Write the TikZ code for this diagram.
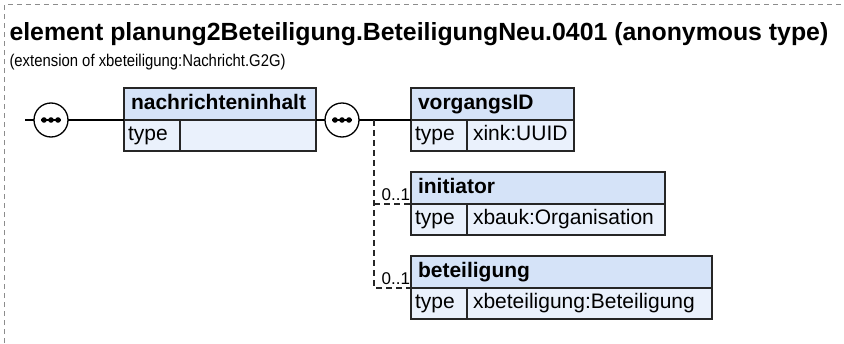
\documentclass[tikz,border=0pt]{standalone}
\usepackage{fontspec}
\setmainfont{Liberation Sans}
\usepackage{tikz}
\usetikzlibrary{positioning}

\definecolor{headblue}{HTML}{D5E3F8}
\definecolor{bodyblue}{HTML}{EAF1FC}

\begin{document}
\begin{tikzpicture}[x=1pt,y=-1pt,node distance=0pt,outer sep=0pt,inner sep=0pt]

	\tikzstyle{every node}=[font=\fontsize{21}{25}\selectfont]

	\tikzset{head/.style={shape=rectangle,draw=black!85,line width=1.4pt,fill=headblue,
		anchor=north west,minimum height=32pt,inner xsep=7pt,text width=#1,align=left,
		text height=15pt,text depth=4.5pt,font=\fontsize{21}{25}\selectfont\bfseries}}

	\tikzset{typecell/.style={shape=rectangle,draw=black!85,line width=1.4pt,fill=bodyblue,
		minimum height=31pt,inner xsep=4pt,text width=48pt,align=left,
		text height=15pt,text depth=4.5pt}}

	\tikzset{valcell/.style={shape=rectangle,draw=black!85,line width=1.4pt,fill=bodyblue,
		minimum height=31pt,inner xsep=6pt,text width=#1,align=left,
		text height=15pt,text depth=4.5pt}}

	\tikzset{seq/.style={shape=circle,draw=black,line width=1.3pt,fill=white,minimum size=34pt}}

	\tikzset{wire/.style={draw=black,line width=1.4pt}}
	\tikzset{optwire/.style={draw=black!85,line width=1.3pt,dash pattern=on 6pt off 4pt}}
	\tikzset{mult/.style={anchor=south east,inner xsep=1pt,inner ysep=3.5pt,
		font=\fontsize{17}{20}\selectfont}}

	\useasboundingbox (0,0) rectangle (844,343);

	% Dashed frame round the element.
	\draw [draw=black!45,line width=0.8pt,dash pattern=on 5pt off 4pt] (4.5,343) -- (4.5,4.5) -- (844,4.5);

	\node (title) [anchor=base west,font=\fontsize{24.85}{30}\selectfont\bfseries] at (9.5,40)
		{element planung2Beteiligung.BeteiligungNeu.0401 (anonymous type)};
	\node (subtitle) [anchor=base west,font=\fontsize{17}{20}\selectfont] at (9.5,66)
		{\scalebox{0.875}[1]{(extension of xbeteiligung:Nachricht.G2G)}};

	% Sequence compositors.
	\node (seqa) [seq] at (51,120) {};
	\node (seqb) [seq] at (342,120) {};

	% nachrichteninhalt
	\node (nachrhead) [head=178pt] at (124,88) {nachrichteninhalt};
	\node (nachrtype) [typecell,below=of nachrhead.south west,anchor=north west] {type};
	\node (nachrval) [valcell=124pt,right=of nachrtype] {};

	% vorgangsID
	\node (vorghead) [head=149pt] at (411,88) {vorgangsID};
	\node (vorgtype) [typecell,below=of vorghead.south west,anchor=north west] {type};
	\node (vorgval) [valcell=95pt,right=of vorgtype] {xink:UUID};

	% initiator
	\node (inithead) [head=240pt] at (411,172) {initiator};
	\node (inittype) [typecell,below=of inithead.south west,anchor=north west] {type};
	\node (initval) [valcell=186pt,right=of inittype] {xbauk:Organisation};

	% beteiligung
	\node (betehead) [head=287pt] at (411,256) {beteiligung};
	\node (betetype) [typecell,below=of betehead.south west,anchor=north west] {type};
	\node (beteval) [valcell=233pt,right=of betetype] {xbeteiligung:Beteiligung};

	% Dots inside the compositors.
	\foreach \s in {seqa,seqb} {
		\draw [wire] ([xshift=-10pt]\s.center) -- ([xshift=10pt]\s.center);
		\foreach \dx in {-7,0,7}
			\fill ([xshift=\dx pt]\s.center) circle (2.8pt);
	}

	% Main line.
	\coordinate (start) at (25,120);
	\draw [wire] (start) -- (seqa);
	\draw [wire] (seqa) -- (nachrhead.south west);
	\draw [wire] (nachrhead.south east) -- (seqb);
	\draw [wire] (seqb) -- (vorghead.south west);

	% Optional children.
	\coordinate (fork) at (374,120);
	\draw [optwire] (fork) -- (fork |- betehead.south) -- (betehead.south west);
	\draw [optwire] (fork |- inithead.south) -- (inithead.south west);
	\node (initmult) [mult] at (inithead.south west) {0..1};
	\node (betemult) [mult] at (betehead.south west) {0..1};
\end{tikzpicture}
\end{document}
